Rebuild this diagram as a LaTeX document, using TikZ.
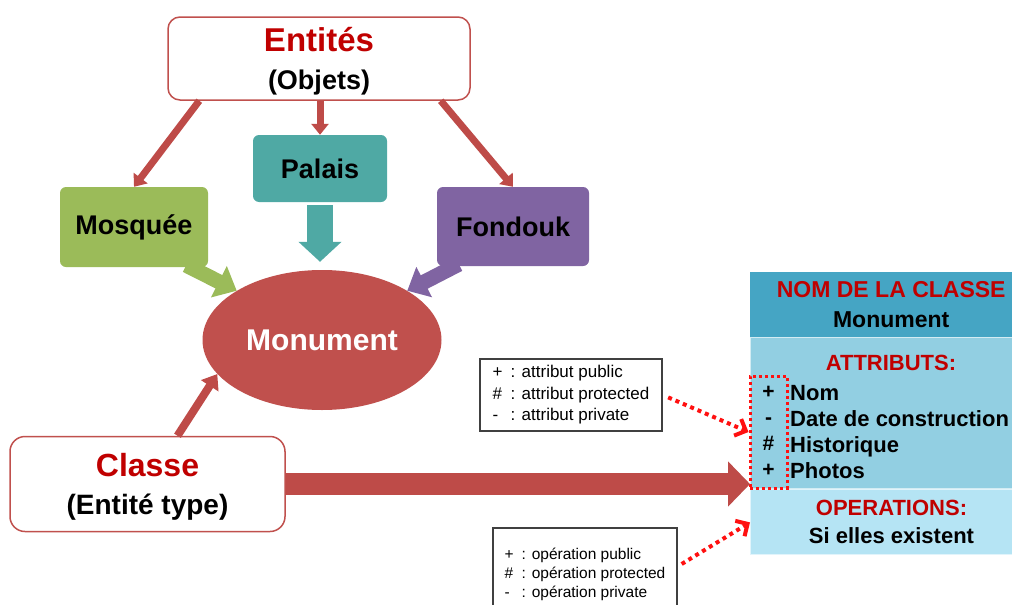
\documentclass[tikz,border=0pt]{standalone}
\usepackage{fontspec}
\setmainfont{Liberation Sans}
\usetikzlibrary{arrows.meta,calc,shapes.geometric,shadows}
\definecolor{LinkRed}{HTML}{BE4B48}
\definecolor{TitleRed}{HTML}{C00000}
\definecolor{MosqGreen}{HTML}{9BBB59}
\definecolor{PalaisTeal}{HTML}{4FA9A4}
\definecolor{FondPurple}{HTML}{8064A2}
\definecolor{MonuRed}{HTML}{C0504D}
\definecolor{HeadBlue}{HTML}{45A5C4}
\definecolor{AttrBlue}{HTML}{92CFE2}
\definecolor{OperBlue}{HTML}{B5E4F4}
\definecolor{DotRed}{HTML}{FF1010}
\definecolor{LegendGray}{HTML}{404040}
\newcommand{\fsz}[2]{\fontsize{#1}{#2}\selectfont}

\begin{document}
\begin{tikzpicture}[
        x=1pt, y=-1pt,
        font=\bfseries,
        titlebox/.style={
            rounded corners=12pt,
            draw=MonuRed,
            line width=1.5pt,
            fill=white,
            align=center,
            text depth=0pt,
            inner sep=0pt
        },
        colbox/.style={
            rounded corners=6pt,
            align=center,
            inner sep=0pt,
            font=\bfseries\fsz{27}{32}
        },
        umlpart/.style={
            rectangle,
            inner sep=0pt,
            minimum width=282,
            anchor=north west,
            align=center
        },
        legend/.style={
            draw=LegendGray,
            line width=1.3pt,
            fill=white,
            inner sep=0pt,
            font=\mdseries
        },
        linkarrow/.style={-{Triangle[length=11pt, width=17pt]}, line width=7pt, draw=LinkRed},
        blockarrow/.style={line width=#1},
        dotarrow/.style={-{Straight Barb[length=9pt, width=18pt]}, line width=4pt, draw=DotRed,
            dash pattern=on 4pt off 4pt}
    ]
        \useasboundingbox (0,0) rectangle (1012,605);
        \clip (0,0) rectangle (1012,605);

        \node[titlebox, minimum width=302, minimum height=83, font=\bfseries\fsz{27}{38}] (entites) at (319,58.5)
            {{\fsz{33}{38}\color{TitleRed}Entités}\\(Objets)};
        \node[colbox, fill=PalaisTeal, minimum width=134, minimum height=67] (palais) at (320,168.5) {Palais};
        \node[colbox, fill=MosqGreen, minimum width=148, minimum height=80] (mosq) at (134,227) {Mosquée};
        \node[colbox, fill=FondPurple, minimum width=152, minimum height=79] (fondouk) at (513,226.5) {Fondouk};
        \node[ellipse, fill=MonuRed, minimum width=239, minimum height=140, inner sep=0pt,
            text=white, font=\bfseries\fsz{30}{34}] (monu) at (322,340) {Monument};
        \node[titlebox, rounded corners=15pt, minimum width=275, minimum height=95, font=\bfseries\fsz{28}{38}] (classe) at (147.5,484)
            {{\fsz{32}{38}\color{TitleRed}Classe}\\(Entité type)};

        \draw[linkarrow] ($(entites.south west)+(32,0)$) -- (mosq.north);
        \draw[linkarrow] (entites.south -| palais.north) -- (palais.north);
        \draw[linkarrow] ($(entites.south east)+(-30,0)$) -- (fondouk.north);

        \draw[blockarrow=15pt, draw=MosqGreen, -{Triangle[length=20pt, width=34pt]}]
            ($(mosq.south east)+(-22,-2)$) -- (monu.150);
        \draw[blockarrow=26pt, draw=PalaisTeal, -{Triangle[length=20pt, width=42pt]}, shorten <=3pt, shorten >=8pt]
            (palais.south) -- (palais.south |- monu.north);
        \draw[blockarrow=15pt, draw=FondPurple, -{Triangle[length=19pt, width=33pt]}]
            ($(fondouk.south west)+(22,-2)$) -- (monu.30);
        \draw[blockarrow=8pt, draw=LinkRed, -{Triangle[length=14pt, width=20pt]}]
            ($(classe.north)+(30,0)$) -- (monu.198);

        \node[umlpart, fill=HeadBlue, minimum height=65, font=\bfseries\fsz{23}{30},
            drop shadow={opacity=0.3, shadow xshift=3pt, shadow yshift=-3pt}] (header) at (750,272)
            {{\color{TitleRed}NOM DE LA CLASSE}\\Monument};
        \node[umlpart, fill=AttrBlue, minimum height=151, draw=white!60!AttrBlue, line width=1pt] (attr) at (header.south west) {};
        \node[umlpart, fill=OperBlue, minimum height=65, font=\bfseries\fsz{22}{28}, draw=white!60!OperBlue, line width=1pt] (oper) at (attr.south west)
            {{\color{TitleRed}OPERATIONS:}\\Si elles existent};
        \node[text=TitleRed, font=\bfseries\fsz{22}{26}] (atttitle) at (891,363) {ATTRIBUTS:};
        \node[draw=DotRed, line width=3pt, dash pattern=on 3pt off 3pt, minimum width=37, minimum height=112,
            inner sep=0pt, align=center, font=\bfseries\fsz{21}{26}] (symbox) at (768.5,432)
            {\strut+\\\strut-\\\strut\#\\\strut+};
        \node[anchor=west, align=left, inner sep=0pt, font=\bfseries\fsz{22}{26}] (attnames) at (790,434)
            {\strut Nom\\\strut Date de construction\\\strut Historique\\\strut Photos};

        \draw[blockarrow=22pt, draw=LinkRed, -{Triangle[length=22pt, width=44pt]}]
            (classe.east) -- (classe.east -| attr.west);

        \node[legend, minimum width=182, minimum height=72, font=\mdseries\fsz{17}{21.5}] (legatt) at (571,395)
            {\begin{tabular}{@{}l@{\hspace{8pt}}l@{}}+ & : attribut public\\\# & : attribut protected\\- & : attribut private\end{tabular}};
        \node[legend, minimum width=184, minimum height=94, font=\mdseries\fsz{15.5}{19}] (legop) at (585,575)
            {\begin{tabular}{@{}l@{\hspace{8pt}}l@{}}+ & : opération public\\\# & : opération protected\\- & : opération private\end{tabular}};

        \draw[dotarrow, shorten <=6pt] (legatt.east) -- (symbox.west);
        \draw[dotarrow] ($(legop.east)+(4,-11)$) -- (oper.west);
    \end{tikzpicture}
\end{document}
